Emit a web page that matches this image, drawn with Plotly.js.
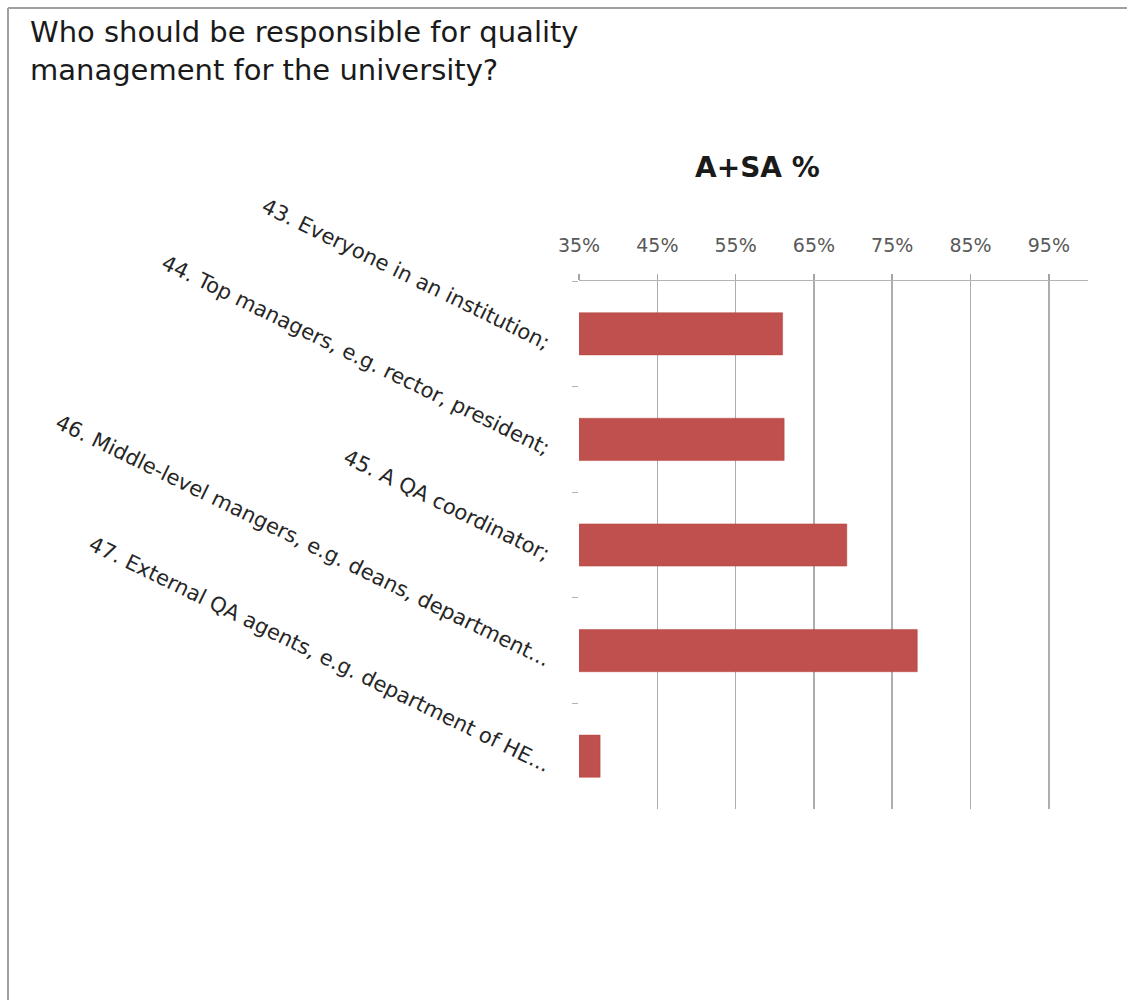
<!DOCTYPE html>
<html>
<head>
<meta charset="utf-8">
<script src="https://cdn.plot.ly/plotly-3.0.1.min.js"></script>
<style>html,body{margin:0;padding:0;background:#fff;}</style>
</head>
<body>
<div id="chart" style="width:1127px;height:1000px;"></div>
<script>
const categories = [
  "43. Everyone in an institution;",
  "44. Top managers, e.g. rector, president;",
  "45. A QA coordinator;",
  "46. Middle-level mangers, e.g. deans, department...",
  "47. External QA agents, e.g. department of HE..."
];
const values = [61.0, 61.2, 69.2, 78.2, 37.7];
const tickValues = [35, 45, 55, 65, 75, 85, 95];
const tickLabels = ["35%", "45%", "55%", "65%", "75%", "85%", "95%"];
const chartTitle = "Who should be responsible for quality<br>management for the university?";
const seriesTitle = "A+SA %";

const W = 1127, H = 1000;
const L = 579, R = 39, T = 281, B = 191;
const pw = W - L - R, ph = H - T - B;
const px = x => (x - L) / pw;
const py = y => 1 - (y - T) / ph;

const trace = {
  type: "bar",
  orientation: "h",
  y: categories,
  x: values,
  marker: {color: "#C0504D", line: {color: "#B8453F", width: 0.5}},
  hoverinfo: "x+y"
};

const layout = {
  width: W, height: H,
  margin: {l: L, r: R, t: T, b: B, pad: 0},
  paper_bgcolor: "#ffffff",
  plot_bgcolor: "#ffffff",
  showlegend: false,
  bargap: 0.6,
  title: {
    text: chartTitle,
    font: {family: "DejaVu Sans", size: 29, color: "#1a1a1a"},
    xref: "container", yref: "container",
    x: 30 / W, xanchor: "left",
    y: 1 - 42 / H, yanchor: "top"
  },
  xaxis: {
    side: "top",
    range: [35, 100],
    tickvals: tickValues,
    ticktext: tickLabels,
    tickfont: {family: "DejaVu Sans", size: 19, color: "#595959"},
    ticklabelstandoff: 14,
    ticks: "outside", ticklen: 6, tickcolor: "#a6a6a6", tickwidth: 1.5,
    showgrid: true, gridcolor: "#adadad", gridwidth: 1.5,
    showline: true, linecolor: "#b3b3b3", linewidth: 1.5,
    zeroline: false, automargin: false, fixedrange: true
  },
  yaxis: {
    autorange: "reversed",
    tickangle: 26,
    tickfont: {family: "DejaVu Sans", size: 21, color: "#262626"},
    ticklabelstandoff: 28,
    ticklabelshift: -10,
    ticks: "outside", tickson: "boundaries", ticklen: 6, tickcolor: "#b3b3b3",
    showline: false, showgrid: false, zeroline: false,
    automargin: false, fixedrange: true
  },
  annotations: [{
    text: seriesTitle,
    xref: "paper", yref: "paper",
    x: px(757), y: py(168),
    xanchor: "center", yanchor: "middle",
    showarrow: false,
    font: {family: "DejaVu Sans", size: 28, color: "#1a1a1a", weight: "bold"}
  }],
  shapes: [
    {type: "line", xref: "paper", yref: "paper", x0: px(8), x1: px(1127), y0: py(8), y1: py(8),
     line: {color: "#a0a0a0", width: 2}},
    {type: "line", xref: "paper", yref: "paper", x0: px(8), x1: px(8), y0: py(8), y1: py(1000),
     line: {color: "#a0a0a0", width: 2}}
  ]
};

Plotly.newPlot("chart", [trace], layout, {displayModeBar: false, staticPlot: true});
</script>
</body>
</html>
